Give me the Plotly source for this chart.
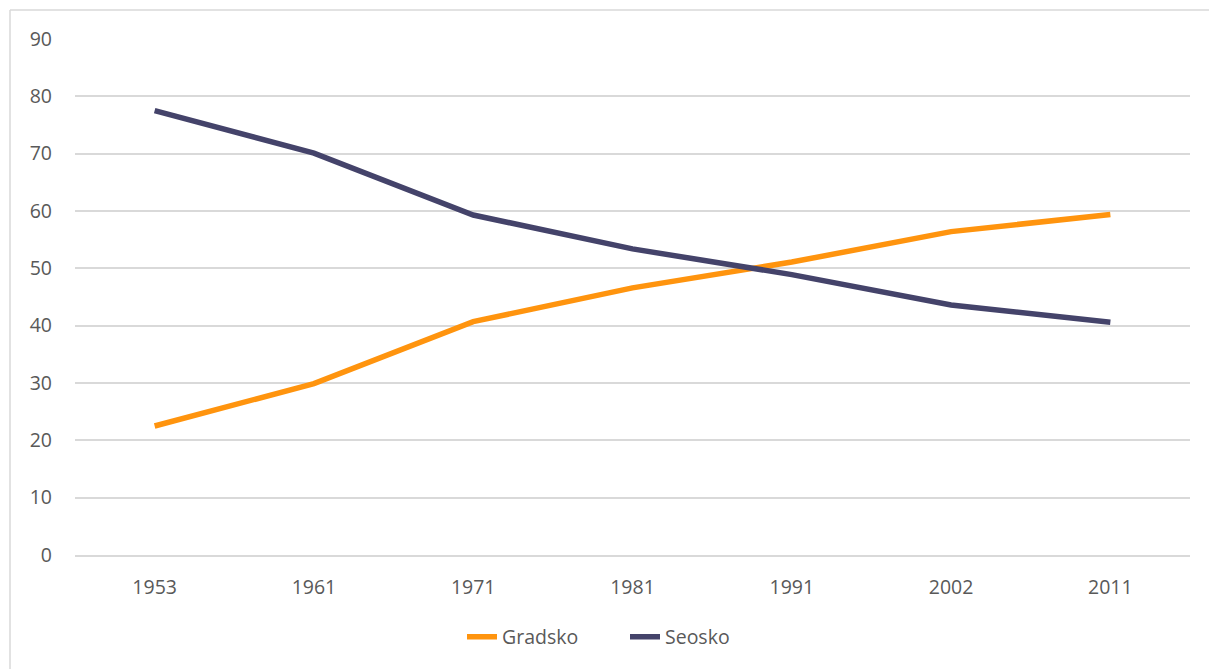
import plotly.graph_objects as go

# census years and share of population (%)
years = ["1953", "1961", "1971", "1981", "1991", "2002", "2011"]
gradsko = [22.5, 29.9, 40.7, 46.6, 51.1, 56.4, 59.4]
seosko = [77.5, 70.1, 59.3, 53.4, 48.9, 43.6, 40.6]

fig = go.Figure()
fig.add_trace(go.Scatter(x=years, y=gradsko, name="Gradsko", mode="lines",
                         line=dict(color="#FF940E", width=5.5)))
fig.add_trace(go.Scatter(x=years, y=seosko, name="Seosko", mode="lines",
                         line=dict(color="#44436A", width=5.5)))

W, H = 1209, 669
ml, mr, mt, mb = 75, 19, 39, 114
pw, ph = W - ml - mr, H - mt - mb

# thin frame around the chart (top and left edges visible)
fx = (10 - ml) / pw
fy = (H - mb - 10) / ph
fig.add_shape(type="line", xref="paper", yref="paper", x0=fx, x1=1.1, y0=fy, y1=fy,
              line=dict(color="#D9D9D9", width=1.5))
fig.add_shape(type="line", xref="paper", yref="paper", x0=fx, x1=fx, y0=fy, y1=-0.3,
              line=dict(color="#D9D9D9", width=1.5))

fig.update_layout(
    width=W, height=H,
    margin=dict(l=ml, r=mr, t=mt, b=mb),
    plot_bgcolor="white", paper_bgcolor="white",
    font=dict(family="Open Sans", size=19.5, color="#595959"),
    showlegend=True,
    legend=dict(orientation="h", x=(462 - ml) / pw, xanchor="left",
                y=-(637 - (H - mb)) / ph, yanchor="middle",
                font=dict(size=19.5, color="#595959"), tracegroupgap=0,
                entrywidth=118, entrywidthmode="pixels"),
    xaxis=dict(type="category", range=[-0.5, 6.5], showgrid=False, zeroline=False,
               showline=True, linecolor="#D9D9D9", linewidth=1.5, ticks="",
               ticklabelstandoff=14),
    yaxis=dict(range=[0, 90], dtick=10, showgrid=True, gridcolor="#D9D9D9", gridwidth=1.5,
               zeroline=False, showline=False, ticks="", ticklabelstandoff=22),
)

fig.write_html("out.html", config={"displayModeBar": False},
               post_script="document.body.style.margin='0px';")
